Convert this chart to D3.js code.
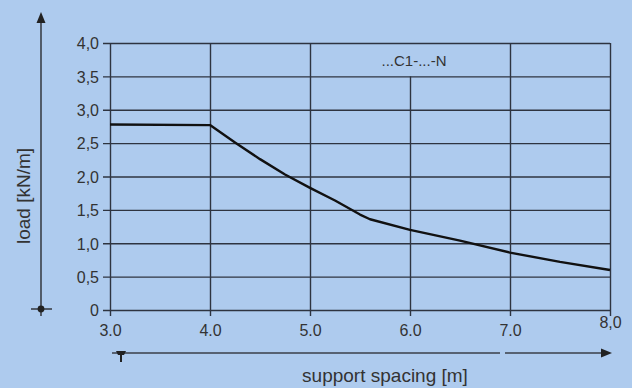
<!DOCTYPE html>
<html><head><meta charset="utf-8">
<script src="https://cdn.jsdelivr.net/npm/d3@7"></script>
<style>
html,body{margin:0;padding:0;background:#aecbee;}
svg{display:block;}
text{font-family:"Liberation Sans",Arial,sans-serif;fill:#333;}
</style></head><body>
<svg id="c" width="632" height="388"></svg>
<script>
// Data
const spacing = [3.0, 4.0, 4.25, 4.5, 4.75, 5.0, 5.25, 5.5, 5.6, 6.0, 6.5, 7.0, 7.5, 8.0];
const load    = [2.78, 2.77, 2.51, 2.26, 2.03, 1.83, 1.64, 1.43, 1.36, 1.20, 1.04, 0.86, 0.72, 0.60];
const xTicks = [3, 4, 5, 6, 7, 8];
const xTickLabels = ["3.0", "4.0", "5.0", "6.0", "7.0", "8,0"];
const yTicks = [0, 0.5, 1, 1.5, 2, 2.5, 3, 3.5, 4];
const yTickLabels = ["0", "0,5", "1,0", "1,5", "2,0", "2,5", "3,0", "3,5", "4,0"];
const seriesLabel = "...C1-...-N";
const xTitle = "support spacing [m]";
const yTitle = "load [kN/m]";

const svg = d3.select("#c");
const x = d3.scaleLinear().domain([3, 8]).range([110, 610]);
const y = d3.scaleLinear().domain([0, 4]).range([310, 43]);
const grid = "#2e3440";

// horizontal gridlines via axis
const yAx = svg.append("g").attr("transform", `translate(${x(8)},0)`)
  .call(d3.axisLeft(y).tickValues(yTicks).tickSize(x(8) - x(3) + 7)
        .tickFormat((d, i) => yTickLabels[i]));
yAx.select(".domain").remove();
yAx.selectAll("line").attr("stroke", grid).attr("stroke-width", 1.4);
yAx.selectAll("text").attr("x", -(x(8) - x(3)) - 11).attr("dy", "0.36em")
  .style("font-size", "16px").attr("fill", "#444");

// vertical gridlines via axis
const xAx = svg.append("g").attr("transform", `translate(0,${y(0)})`)
  .call(d3.axisBottom(x).tickValues(xTicks).tickSize(6)
        .tickFormat((d, i) => xTickLabels[i]));
xAx.select(".domain").remove();
xAx.selectAll("line").attr("stroke", grid).attr("stroke-width", 1.4)
  .attr("y1", d => (d === 6 ? y(3.5) : y(4)) - y(0));
xAx.selectAll("text").attr("y", 15).style("font-size", "16px").attr("fill", "#444")
  .filter(d => d === 8).attr("y", 7);

// curve
const line = d3.line().x((d, i) => x(spacing[i])).y(d => y(d));
svg.append("path").datum(load).attr("d", line)
  .attr("fill", "none").attr("stroke", "#111").attr("stroke-width", 2.4)
  .attr("stroke-linejoin", "round");

// series label
svg.append("text").attr("x", x(6.04)).attr("y", 66).attr("text-anchor", "middle")
  .style("font-size", "15px").attr("fill", "#222").text(seriesLabel);

// left arrow axis
const ax = "#3a3f48";
svg.append("line").attr("x1", 41).attr("x2", 41).attr("y1", 20).attr("y2", 316)
  .attr("stroke", ax).attr("stroke-width", 1.6);
svg.append("path").attr("d", "M41,12 L36.5,23 L45.5,23 Z").attr("fill", "#222");
svg.append("line").attr("x1", 31).attr("x2", 52).attr("y1", y(0) - 1).attr("y2", y(0) - 1)
  .attr("stroke", ax).attr("stroke-width", 1.6);
svg.append("circle").attr("cx", 41).attr("cy", y(0) - 1).attr("r", 3.4).attr("fill", "#222");

// bottom arrow axis
svg.append("line").attr("x1", 112).attr("x2", 500).attr("y1", 353).attr("y2", 353)
  .attr("stroke", ax).attr("stroke-width", 1.6);
svg.append("line").attr("x1", 505).attr("x2", 603).attr("y1", 353).attr("y2", 353)
  .attr("stroke", ax).attr("stroke-width", 1.6);
svg.append("path").attr("d", "M612,353 L601,348.5 L601,357.5 Z").attr("fill", "#222");
svg.append("path").attr("d", "M116,351 L126,351 L124,355 L122,355 L122,362 L120,362 L120,355 L118,355 Z").attr("fill", "#222");

// titles
svg.append("text").attr("x", 385).attr("y", 382).attr("text-anchor", "middle")
  .style("font-size", "19px").attr("fill", "#222").text(xTitle);
svg.append("text").attr("transform", "translate(30,196) rotate(-90)").attr("text-anchor", "middle")
  .style("font-size", "19px").attr("fill", "#222").text(yTitle);
</script></body></html>
